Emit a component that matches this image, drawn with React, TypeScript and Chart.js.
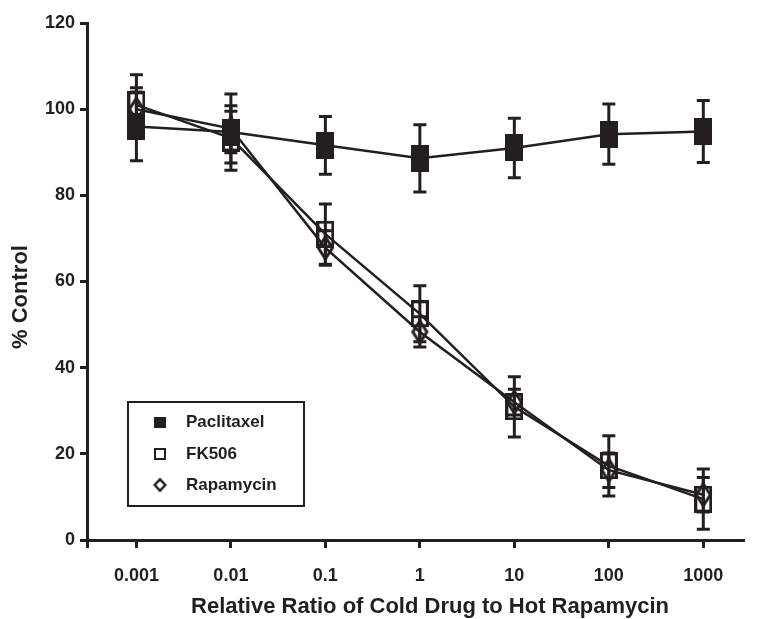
import React, { useEffect, useRef } from 'react';
import { Chart, registerables } from 'chart.js';

Chart.register(...registerables);

// ---------- data ----------
const ratios = [0.001, 0.01, 0.1, 1, 10, 100, 1000];
const tickLabels = ['0.001', '0.01', '0.1', '1', '10', '100', '1000'];
const seriesNames = ['Paclitaxel', 'FK506', 'Rapamycin'];

const paclitaxel = [96, 94.7, 91.6, 88.6, 91.0, 94.2, 94.8];
const paclitaxelErr = [8, 4.8, 6.7, 7.8, 6.9, 7.0, 7.2];

const fk506 = [101, 93.3, 71.0, 52.5, 30.9, 17.2, 9.5];
const fk506Err = [7, 7.5, 7, 6.5, 7, 7, 7];

const rapamycin = [100, 95.5, 67.8, 48.3, 32.0, 16.2, 10.5];
const rapamycinErr = [5, 8, 4, 3.5, 3, 4, 4];

const yTicks = [0, 20, 40, 60, 80, 100, 120];

const xTitle = 'Relative Ratio of Cold Drug to Hot Rapamycin';
const yTitle = '% Control';

const xMin = 0.0003027;
const xMax = 2729;

const INK = '#231f20';
const FONT = "'Liberation Sans', Arial, Helvetica, sans-serif";

function makeMarker(kind: string, w: number, h: number, lw: number) {
  const pad = kind === 'diamond' ? 3 : 0;
  const c = document.createElement('canvas');
  c.width = w + pad * 2;
  c.height = h + pad * 2;
  const ctx = c.getContext('2d') as CanvasRenderingContext2D;
  ctx.fillStyle = INK;
  ctx.strokeStyle = INK;
  ctx.lineWidth = lw;
  if (kind === 'filled') {
    ctx.fillRect(0, 0, w, h);
  } else if (kind === 'open') {
    ctx.strokeRect(lw / 2, lw / 2, w - lw, h - lw);
  } else {
    ctx.beginPath();
    ctx.moveTo(pad + w / 2, pad + lw / 2);
    ctx.lineTo(pad + w - lw / 2, pad + h / 2);
    ctx.lineTo(pad + w / 2, pad + h - lw / 2);
    ctx.lineTo(pad + lw / 2, pad + h / 2);
    ctx.closePath();
    ctx.stroke();
  }
  return c;
}

export default function App() {
  const ref = useRef<HTMLCanvasElement | null>(null);

  useEffect(() => {
    document.body.style.margin = '0';
    const canvas = ref.current;
    if (!canvas) return;

    const errs = [paclitaxelErr, fk506Err, rapamycinErr];
    const markers = [
      makeMarker('filled', 18, 27, 3),
      makeMarker('open', 18, 27, 3),
      makeMarker('diamond', 17, 25, 3),
    ];
    const legendMarkers = [
      makeMarker('filled', 12, 11, 2),
      makeMarker('open', 12, 12, 2),
      makeMarker('diamond', 13, 14, 2.5),
    ];

    const errorBarPlugin = {
      id: 'errorBars',
      beforeDatasetsDraw(chart: any) {
        const { ctx } = chart;
        const xs = chart.scales.x;
        const ys = chart.scales.y;
        ctx.save();
        ctx.strokeStyle = INK;
        ctx.lineWidth = 3;
        chart.data.datasets.forEach((ds: any, di: number) => {
          ds.data.forEach((pt: any, i: number) => {
            const e = errs[di][i];
            const x = xs.getPixelForValue(pt.x);
            const yt = ys.getPixelForValue(pt.y + e);
            const yb = ys.getPixelForValue(pt.y - e);
            ctx.beginPath();
            ctx.moveTo(x, yt);
            ctx.lineTo(x, yb);
            ctx.moveTo(x - 6.5, yt);
            ctx.lineTo(x + 6.5, yt);
            ctx.moveTo(x - 6.5, yb);
            ctx.lineTo(x + 6.5, yb);
            ctx.stroke();
          });
        });
        ctx.restore();
      },
    };

    const titlesPlugin = {
      id: 'axisTitles',
      afterDraw(chart: any) {
        const { ctx, chartArea } = chart;
        ctx.save();
        ctx.fillStyle = INK;
        ctx.font = `bold 22px ${FONT}`;
        ctx.textAlign = 'center';
        ctx.textBaseline = 'middle';
        ctx.fillText(xTitle, chartArea.left + 343, chartArea.bottom + 67);
        ctx.translate(21, chartArea.top + 274);
        ctx.rotate(-Math.PI / 2);
        ctx.fillText(yTitle, 0, 0);
        ctx.restore();
      },
    };

    const legendPlugin = {
      id: 'boxLegend',
      afterDraw(chart: any) {
        const { ctx, chartArea } = chart;
        const left = chartArea.left + 41;
        const top = chartArea.bottom - 138;
        const w = 176;
        const h = 104;
        ctx.save();
        ctx.strokeStyle = INK;
        ctx.lineWidth = 2;
        ctx.strokeRect(left, top, w, h);
        ctx.font = `bold 17px ${FONT}`;
        ctx.fillStyle = INK;
        ctx.textBaseline = 'middle';
        ctx.textAlign = 'left';
        const rows = [20, 52, 83];
        chart.data.datasets.forEach((ds: any, i: number) => {
          const m = legendMarkers[i];
          const cy = top + rows[i];
          ctx.drawImage(m, left + 32 - m.width / 2, cy - m.height / 2);
          ctx.fillText(ds.label, left + 58, cy);
        });
        ctx.restore();
      },
    };

    const series = [paclitaxel, fk506, rapamycin];
    const datasets = series.map((vals, si) => ({
      label: seriesNames[si],
      data: vals.map((v, i) => ({ x: ratios[i], y: v })),
      borderColor: INK,
      borderWidth: 2.5,
      backgroundColor: INK,
      pointStyle: markers[si] as any,
      pointRadius: 10,
      pointHoverRadius: 10,
      tension: 0,
      fill: false,
    }));

    const chart = new Chart(canvas, {
      type: 'line',
      data: { datasets },
      plugins: [errorBarPlugin, titlesPlugin, legendPlugin],
      options: {
        animation: false,
        responsive: false,
        events: [],
        layout: { padding: { top: 23, right: 0, bottom: 0, left: 0 } },
        plugins: {
          legend: { display: false },
          tooltip: { enabled: false },
        },
        scales: {
          x: {
            type: 'logarithmic',
            min: xMin,
            max: xMax,
            afterBuildTicks(scale: any) {
              scale.ticks = [xMin, ...ratios].map((v) => ({ value: v }));
            },
            afterFit(scale: any) {
              scale.height = 79;
              scale.paddingLeft = 0;
              scale.paddingRight = 0;
            },
            ticks: {
              autoSkip: false,
              maxRotation: 0,
              color: INK,
              padding: 17,
              font: { family: FONT, size: 18, weight: 'bold' },
              callback: (v: any) => {
                const idx = ratios.indexOf(Number(v));
                return idx >= 0 ? tickLabels[idx] : '';
              },
            },
            grid: {
              display: true,
              drawOnChartArea: false,
              drawTicks: true,
              tickLength: 8,
              tickWidth: 3,
              tickColor: INK,
            },
            border: { display: true, width: 3, color: INK },
            title: { display: false, text: xTitle },
          },
          y: {
            type: 'linear',
            min: 0,
            max: 120,
            afterBuildTicks(scale: any) {
              scale.ticks = yTicks.map((v) => ({ value: v }));
            },
            afterFit(scale: any) {
              scale.width = 87;
              scale.paddingTop = 0;
              scale.paddingBottom = 0;
            },
            ticks: {
              color: INK,
              padding: 5,
              font: { family: FONT, size: 18, weight: 'bold' },
            },
            grid: {
              display: true,
              drawOnChartArea: false,
              drawTicks: true,
              tickLength: 7,
              tickWidth: 3,
              tickColor: INK,
            },
            border: { display: true, width: 3, color: INK },
            title: { display: false, text: yTitle },
          },
        },
      } as any,
    });

    return () => chart.destroy();
  }, []);

  return (
    <div style={{ width: 757, height: 619, background: '#fff' }}>
      <canvas ref={ref} width={757} height={619} style={{ display: 'block' }} />
    </div>
  );
}
